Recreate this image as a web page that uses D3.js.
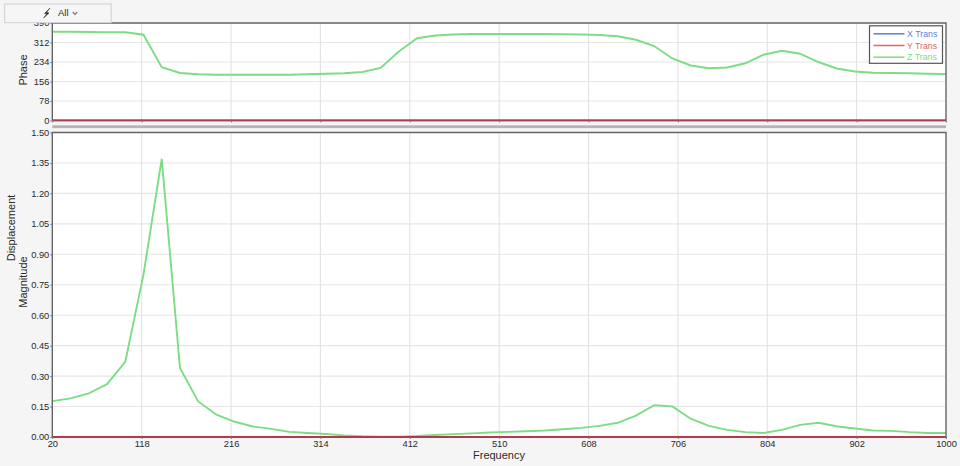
<!DOCTYPE html>
<html><head><meta charset="utf-8">
<script src="https://cdn.jsdelivr.net/npm/d3@7/dist/d3.min.js"></script>
<style>
html,body{margin:0;padding:0;background:#f5f5f5;overflow:hidden}
svg{display:block}
text{font-family:"Liberation Sans",Arial,sans-serif;fill:#2a2a2a}
</style></head><body><svg id="c" width="960" height="466"></svg>
<script>
const frequency=[20,40,60,80,100,120,140,160,180,200,220,240,260,280,300,320,340,360,380,400,420,440,460,480,500,520,540,560,580,600,620,640,660,680,700,720,740,760,780,800,820,840,860,880,900,920,940,960,980,1000];
const zMagnitude=[.177,.19,.215,.26,.37,.80,1.37,.34,.175,.11,.075,.052,.04,.025,.02,.015,.008,.004,.002,.002,.005,.01,.014,.018,.022,.025,.028,.032,.038,.045,.055,.07,.105,.157,.15,.09,.055,.035,.024,.02,.035,.06,.07,.053,.042,.032,.03,.024,.02,.02];
const zPhase=[355,355,354,353,353,343,213,190,185,183,183,183,183,183,185,187,189,194,210,276,329,340,344,346,346,346,346,346,345,344,342,337,323,298,248,220,209,212,229,263,279,267,234,208,196,191,190,189,187,186];
const xTicks=[20,118,216,314,412,510,608,706,804,902,1000];
const phaseTicks=[0,78,156,234,312,390];
const magTicks=[0,.15,.30,.45,.60,.75,.90,1.05,1.20,1.35,1.50];
const seriesNames=["X Trans","Y Trans","Z Trans"];
const seriesColors=["#5b7fdc","#dc6a5f","#7ddc85"];
const zeroValues=frequency.map(()=>0);

const svg=d3.select("#c");
const L=52.3,R=946;
const x=d3.scaleLinear().domain([20,1000]).range([L,R]);
const yP=d3.scaleLinear().domain([0,390]).range([120.5,23]);
const yM=d3.scaleLinear().domain([0,1.5]).range([437,132.5]);

function panel(y,ticks,fmt,title,mag){
  const [b,t]=y.range();
  svg.append("rect").attr("x",L).attr("y",t).attr("width",R-L).attr("height",b-t).attr("fill","#fff");
  const g=svg.append("g");
  g.selectAll(".h").data(ticks.filter(d=>d>0)).join("line").attr("x1",L).attr("x2",R)
    .attr("y1",d=>y(d)).attr("y2",d=>y(d)).attr("stroke","#e6e6e6").attr("stroke-width",1.1);
  g.selectAll(".v").data(xTicks.slice(1,-1)).join("line").attr("y1",t).attr("y2",b)
    .attr("x1",d=>x(d)).attr("x2",d=>x(d)).attr("stroke","#e2e2e2").attr("stroke-width",1.1);
  const line=d3.line().x((d,i)=>x(frequency[i])).y(d=>y(d));
  const clip="clip"+title;
  svg.append("clipPath").attr("id",clip).append("rect").attr("x",L).attr("y",t).attr("width",R-L).attr("height",b-t+1);
  const gl=svg.append("g").attr("clip-path",`url(#${clip})`);
  gl.append("path").attr("d",line(mag)).attr("fill","none").attr("stroke",seriesColors[2]).attr("stroke-width",1.9);
  gl.append("path").attr("d",line(zeroValues)).attr("fill","none").attr("stroke",seriesColors[0]).attr("stroke-width",1.8);
  gl.append("path").attr("d",line(zeroValues)).attr("fill","none").attr("stroke","#b23a4c").attr("stroke-width",1.8);
  svg.append("path").attr("d",`M${L},${b}V${t}H${R}V${b}`).attr("fill","none").attr("stroke","#666").attr("stroke-width",1.4);
  const ay=d3.axisLeft(y).tickValues(ticks).tickFormat(fmt).tickSize(2).tickPadding(1);
  const ga=svg.append("g").attr("transform",`translate(${L},0)`).call(ay);
  ga.select(".domain").remove();
  ga.selectAll("line").attr("stroke","#777");
  ga.selectAll("text").attr("font-size",9.3).attr("fill","#2a2a2a").attr("font-family","Liberation Sans");
  const ax=d3.axisBottom(x).tickValues(xTicks).tickSize(2).tickPadding(1).tickFormat(mag===zMagnitude?d3.format("d"):"");
  const gb=svg.append("g").attr("transform",`translate(0,${b})`).call(ax);
  gb.select(".domain").remove();
  gb.selectAll("line").attr("stroke","#777");
  gb.selectAll("text").attr("font-size",9.3).attr("fill","#2a2a2a").attr("font-family","Liberation Sans");
}
panel(yP,phaseTicks,d3.format("d"),"Phase",zPhase);
panel(yM,magTicks,d3.format(".2f"),"Magnitude",zMagnitude);

svg.append("rect").attr("x",L).attr("y",125.3).attr("width",R-L).attr("height",2.8).attr("fill","#b4b4b4");

svg.append("text").attr("transform","translate(26.5,70) rotate(-90)").attr("text-anchor","middle").attr("font-size",11).text("Phase");
svg.append("text").attr("transform","translate(26.5,282) rotate(-90)").attr("text-anchor","middle").attr("font-size",11).text("Magnitude");
svg.append("text").attr("transform","translate(14.5,228) rotate(-90)").attr("text-anchor","middle").attr("font-size",11).text("Displacement");
svg.append("text").attr("x",499).attr("y",458.5).attr("text-anchor","middle").attr("font-size",11).text("Frequency");

const lg=svg.append("g").attr("transform","translate(869.5,25.8)");
lg.append("rect").attr("width",73).attr("height",37.5).attr("fill","#fff").attr("stroke","#555").attr("stroke-width",1.2);
seriesNames.forEach((n,i)=>{
  const yy=8+i*11.7;
  lg.append("line").attr("x1",4).attr("x2",35).attr("y1",yy).attr("y2",yy).attr("stroke",seriesColors[i]).attr("stroke-width",1.5);
  lg.append("text").attr("x",37.5).attr("y",yy+3.3).attr("font-size",8.8).style("fill",seriesColors[i]).text(n);
});

svg.append("rect").attr("x",4.7).attr("y",4).attr("width",106.5).attr("height",18.7).attr("fill","#f6f6f6").attr("stroke","#cfcfcf");
svg.append("path").attr("d","M50,8 L44.5,13.5 L47,13.8 L43.5,18 L49,13 L46.5,12.6 Z").attr("fill","#222").attr("stroke","#222").attr("stroke-width",.5);
svg.append("text").attr("x",58).attr("y",16.3).attr("font-size",9.5).text("All");
svg.append("path").attr("d","M72.7,12 L75,14.3 L77.3,12").attr("fill","none").attr("stroke","#777").attr("stroke-width",1.2);
</script></body></html>
